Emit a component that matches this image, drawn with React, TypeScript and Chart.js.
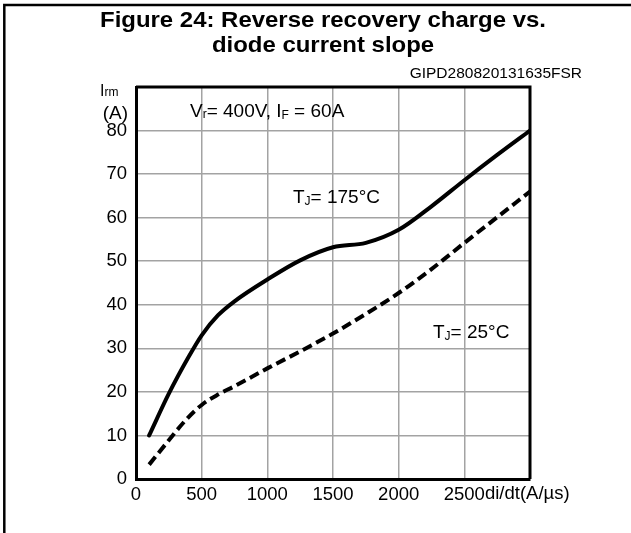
import React, { useEffect, useRef } from 'react';
import { Chart, registerables } from 'chart.js';

Chart.register(...registerables);

// ---- data ----
const slopeHot = [100, 250, 400, 500, 625, 750, 1000, 1250, 1500, 1750, 2000, 2250, 2500, 2750, 3000];
const irmHot = [10, 19.6, 28, 33, 37.6, 40.8, 45.8, 50.2, 53.2, 54.2, 57.2, 62.6, 68.6, 74.4, 80];
const slopeCold = [100, 250, 375, 500, 625, 750, 1000, 1250, 1500, 1750, 2000, 2250, 2500, 2750, 3000];
const irmCold = [3.3, 8.9, 13.4, 17, 19.4, 21.3, 25.4, 29.3, 33.4, 37.9, 42.7, 48.2, 54.2, 60.1, 66];
const xTickValues = [0, 500, 1000, 1500, 2000, 2500];
const yTickValues = [0, 10, 20, 30, 40, 50, 60, 70, 80];
const titleLines = ['Figure 24: Reverse recovery charge vs.', 'diode current slope'];
const figureCode = 'GIPD280820131635FSR';
const xUnit = 'di/dt(A/µs)';
const hotLabel = '175°C';
const coldLabel = '25°C';

const FONT = '"Liberation Sans", Arial, Helvetica, sans-serif';

function drawRich(ctx: CanvasRenderingContext2D, parts: [string, number, number][], x: number, y: number) {
  let cx = x;
  ctx.textAlign = 'left';
  ctx.textBaseline = 'alphabetic';
  for (const [t, size, dy] of parts) {
    ctx.font = `${size}px ${FONT}`;
    ctx.fillText(t, cx, y + dy);
    cx += ctx.measureText(t).width;
  }
}

const decorPlugin = {
  id: 'decor',
  beforeDatasetsDraw(chart: any) {
    const { ctx, chartArea: a } = chart;
    ctx.save();
    ctx.strokeStyle = '#000';
    ctx.lineWidth = 3;
    ctx.beginPath();
    ctx.moveTo(a.left, a.top);
    ctx.lineTo(a.right, a.top);
    ctx.lineTo(a.right, a.bottom);
    ctx.stroke();
    // annotations
    ctx.fillStyle = '#000';
    drawRich(ctx, [['V', 19, 0], ['r', 12, 1], ['= 400V, I', 19, 0], ['F', 12, 2], [' = 60A', 19, 0]], 190, 117);
    drawRich(ctx, [['T', 19, 0], ['J', 12, 2], ['= ' + hotLabel, 19, 0]], 293, 203);
    drawRich(ctx, [['T', 19, 0], ['J', 12, 2], ['= ' + coldLabel, 19, 0]], 433, 338);
    ctx.restore();
  },
  afterDraw(chart: any) {
    const { ctx } = chart;
    const xs = chart.scales.x;
    ctx.save();
    // outer frame (top, left)
    ctx.strokeStyle = '#000';
    ctx.lineWidth = 2.5;
    ctx.beginPath();
    ctx.moveTo(4.3, 533);
    ctx.lineTo(4.3, 5);
    ctx.lineTo(631, 5);
    ctx.stroke();
    ctx.fillStyle = '#000';
    // title
    ctx.textAlign = 'center';
    ctx.textBaseline = 'alphabetic';
    ctx.font = `bold 21.5px ${FONT}`;
    const w1 = ctx.measureText(titleLines[0]).width;
    const sx = 446 / w1;
    ctx.save();
    ctx.translate(323, 0);
    ctx.scale(sx, 1);
    ctx.fillText(titleLines[0], 0, 27);
    ctx.fillText(titleLines[1], 0, 52);
    ctx.restore();
    // code
    ctx.font = `15.5px ${FONT}`;
    ctx.textAlign = 'right';
    ctx.fillText(figureCode, 582, 78);
    // y axis unit
    drawRich(ctx, [['I', 16, 0], ['rm', 12, 0]], 100, 96);
    ctx.font = `19px ${FONT}`;
    ctx.textAlign = 'right';
    ctx.fillText('(A)', 128, 119);
    // x unit after 2500
    ctx.font = `18.5px ${FONT}`;
    const last = xTickValues[xTickValues.length - 1];
    const wl = ctx.measureText(String(last)).width;
    ctx.textAlign = 'left';
    ctx.fillText(xUnit, xs.getPixelForValue(last) + wl / 2, 499);
    ctx.restore();
  },
};

export default function App() {
  const ref = useRef<HTMLCanvasElement>(null);
  useEffect(() => {
    if (!ref.current) return;
    const gridColor = (max: number) => (c: any) =>
      c.tick && (c.tick.value === 0 || c.tick.value === max) ? 'rgba(0,0,0,0)' : '#a3a3a3';
    const chart = new Chart(ref.current, {
      type: 'line',
      data: {
        datasets: [
          {
            label: 'TJ=175°C',
            data: slopeHot.map((x, i) => ({ x, y: irmHot[i] })),
            borderColor: '#000',
            borderWidth: 4,
            pointRadius: 0,
            cubicInterpolationMode: 'monotone',
            borderCapStyle: 'round',
          },
          {
            label: 'TJ=25°C',
            data: slopeCold.map((x, i) => ({ x, y: irmCold[i] })),
            borderColor: '#000',
            borderWidth: 4,
            borderDash: [10, 5],
            pointRadius: 0,
            cubicInterpolationMode: 'monotone',
          },
        ],
      },
      options: {
        animation: false,
        responsive: false,
        events: [],
        layout: { padding: { left: 0, right: 101, top: 87, bottom: 0 } },
        plugins: { legend: { display: false }, tooltip: { enabled: false } },
        scales: {
          x: {
            type: 'linear',
            min: 0,
            max: 3000,
            afterBuildTicks: (s: any) => {
              s.ticks = [0, 500, 1000, 1500, 2000, 2500, 3000].map((v) => ({ value: v }));
            },
            afterFit: (s: any) => {
              s.height = 54;
            },
            ticks: {
              color: '#000',
              font: { family: FONT, size: 18.5 },
              padding: 5,
              maxRotation: 0,
              autoSkip: false,
              callback: (v: any) => (xTickValues.includes(Number(v)) ? String(v) : ''),
            },
            grid: { color: gridColor(3000), lineWidth: 1.5, drawTicks: false },
            border: { display: true, color: '#000', width: 3 },
          },
          y: {
            type: 'linear',
            min: 0,
            max: 90,
            afterBuildTicks: (s: any) => {
              s.ticks = [0, 10, 20, 30, 40, 50, 60, 70, 80, 90].map((v) => ({ value: v }));
            },
            afterFit: (s: any) => {
              s.width = 136;
            },
            ticks: {
              color: '#000',
              font: { family: FONT, size: 18.5 },
              padding: 9,
              autoSkip: false,
              callback: (v: any) => (yTickValues.includes(Number(v)) ? String(v) : ''),
            },
            grid: { color: gridColor(90), lineWidth: 1.5, drawTicks: false },
            border: { display: true, color: '#000', width: 3 },
          },
        },
      },
      plugins: [decorPlugin],
    } as any);
    return () => chart.destroy();
  }, []);
  return (
    <div style={{ position: 'fixed', left: 0, top: 0, width: 631, height: 533, background: '#fff' }}>
      <canvas ref={ref} width={631} height={533} style={{ width: 631, height: 533, display: 'block' }} />
    </div>
  );
}
